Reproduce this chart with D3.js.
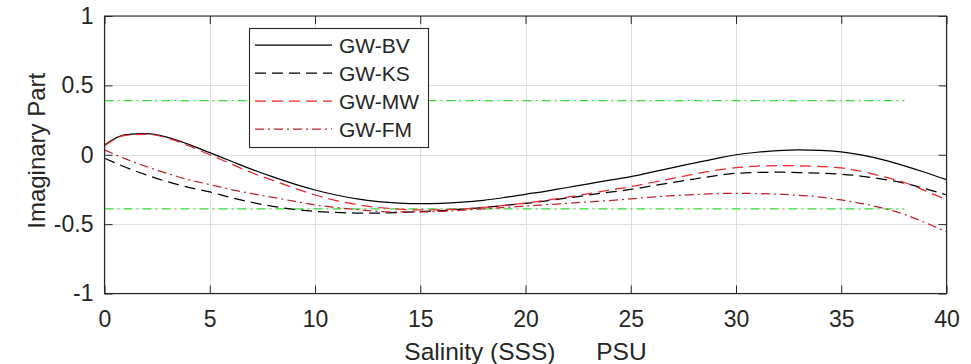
<!DOCTYPE html>
<html>
<head>
<meta charset="utf-8">
<script src="https://cdn.jsdelivr.net/npm/d3@7/dist/d3.min.js"></script>
<style>
  html, body { margin: 0; padding: 0; background: #fff; }
  svg { display: block; font-family: "Liberation Sans", Arial, Helvetica, sans-serif; }
</style>
</head>
<body>
<svg id="chart" width="971" height="364"></svg>
<script>
// Salinity samples (PSU)
const salinity = d3.range(0, 41);

// Imaginary part of the permittivity for each model
const gwBV = [0.07, 0.145, 0.152, 0.125, 0.075, 0.015, -0.045, -0.105, -0.16, -0.21,
  -0.254, -0.29, -0.318, -0.337, -0.348, -0.352, -0.35, -0.342, -0.328, -0.308,
  -0.285, -0.262, -0.236, -0.21, -0.183, -0.158, -0.125, -0.093, -0.06, -0.03,
  0.0, 0.018, 0.03, 0.035, 0.032, 0.02, -0.003, -0.037, -0.08, -0.128, -0.18];
const gwKS = [-0.025, -0.09, -0.146, -0.195, -0.235, -0.268, -0.308, -0.343, -0.372, -0.393,
  -0.408, -0.416, -0.42, -0.42, -0.417, -0.41, -0.402, -0.392, -0.38, -0.365,
  -0.35, -0.332, -0.312, -0.29, -0.27, -0.25, -0.225, -0.2, -0.175, -0.152,
  -0.134, -0.128, -0.126, -0.128, -0.133, -0.14, -0.155, -0.177, -0.205, -0.245, -0.29];
const gwMW = [0.065, 0.14, 0.148, 0.12, 0.065, 0.0, -0.065, -0.13, -0.185, -0.24,
  -0.29, -0.33, -0.36, -0.38, -0.392, -0.398, -0.397, -0.39, -0.38, -0.365,
  -0.348, -0.328, -0.305, -0.28, -0.255, -0.23, -0.2, -0.17, -0.14, -0.113,
  -0.093, -0.082, -0.078, -0.08, -0.085, -0.095, -0.12, -0.158, -0.2, -0.26, -0.325];
const gwFM = [0.035, -0.03, -0.086, -0.135, -0.18, -0.215, -0.25, -0.28, -0.307, -0.335,
  -0.362, -0.38, -0.395, -0.408, -0.412, -0.412, -0.408, -0.4, -0.39, -0.38,
  -0.37, -0.36, -0.35, -0.34, -0.33, -0.318, -0.305, -0.295, -0.287, -0.28,
  -0.278, -0.28, -0.285, -0.292, -0.305, -0.326, -0.352, -0.386, -0.43, -0.49, -0.555];

// Threshold levels (green reference lines) and their salinity span
const thresholds = [0.39, -0.39];
const thresholdSpan = [0, 38];

// Tick labels
const xTicks = [0, 5, 10, 15, 20, 25, 30, 35, 40];
const yTicks = [-1, -0.5, 0, 0.5, 1];
const yTickLabels = ["-1", "-0.5", "0", "0.5", "1"];

const seriesNames = ["GW-BV", "GW-KS", "GW-MW", "GW-FM"];
const seriesValues = [gwBV, gwKS, gwMW, gwFM];
const seriesStyle = [
  { color: "#000000", dash: null },
  { color: "#000000", dash: "11,6" },
  { color: "#e8262b", dash: "11,6" },
  { color: "#c0222c", dash: "9,4,2,4" }
];

const svg = d3.select("#chart");
const plotL = 104.5, plotR = 946.5, plotT = 16, plotB = 293.5;

const x = d3.scaleLinear().domain([0, 40]).range([plotL, plotR]);
const y = d3.scaleLinear().domain([-1, 1]).range([plotB, plotT]);

// grid
const grid = svg.append("g").attr("stroke", "#dedede").attr("stroke-width", 1);
grid.selectAll("line.gx").data(xTicks).join("line").attr("class", "gx")
  .attr("x1", d => Math.round(x(d)) + 0.5).attr("x2", d => Math.round(x(d)) + 0.5)
  .attr("y1", plotT).attr("y2", plotB);
grid.selectAll("line.gy").data(yTicks).join("line").attr("class", "gy")
  .attr("y1", d => Math.round(y(d)) + 0.5).attr("y2", d => Math.round(y(d)) + 0.5)
  .attr("x1", plotL).attr("x2", plotR);

// axes with inward ticks on all four sides
const tickLen = 8;
const axisColor = "#262626";
const fontTick = 23;

const bottomAxis = svg.append("g").attr("transform", `translate(0,${plotB})`)
  .call(d3.axisBottom(x).tickValues(xTicks).tickSizeInner(-tickLen).tickSizeOuter(0).tickPadding(17));
const topAxis = svg.append("g").attr("transform", `translate(0,${plotT})`)
  .call(d3.axisTop(x).tickValues(xTicks).tickSizeInner(-tickLen).tickSizeOuter(0).tickFormat(""));
const leftAxis = svg.append("g").attr("transform", `translate(${plotL},0)`)
  .call(d3.axisLeft(y).tickValues(yTicks).tickSizeInner(-tickLen).tickSizeOuter(0).tickPadding(11)
    .tickFormat((d, i) => yTickLabels[i]));
const rightAxis = svg.append("g").attr("transform", `translate(${plotR},0)`)
  .call(d3.axisRight(y).tickValues(yTicks).tickSizeInner(-tickLen).tickSizeOuter(0).tickFormat(""));

[bottomAxis, topAxis, leftAxis, rightAxis].forEach(g => {
  g.select(".domain").remove();
  g.selectAll(".tick line").attr("stroke", axisColor);
  g.selectAll(".tick text").attr("fill", axisColor)
    .attr("font-size", fontTick)
    .attr("font-family", "'Liberation Sans', Arial, sans-serif");
});

// threshold lines
svg.append("g").selectAll("line").data(thresholds).join("line")
  .attr("x1", x(thresholdSpan[0])).attr("x2", x(thresholdSpan[1]))
  .attr("y1", d => y(d)).attr("y2", d => y(d))
  .attr("stroke", "#3ad83a").attr("stroke-width", 1.2)
  .attr("stroke-dasharray", "9,4,2,4");

// curves
const line = d3.line().x((d, i) => x(salinity[i])).y(d => y(d)).curve(d3.curveMonotoneX);
svg.append("g").selectAll("path").data(seriesValues).join("path")
  .attr("d", d => line(d))
  .attr("fill", "none")
  .attr("stroke", (d, i) => seriesStyle[i].color)
  .attr("stroke-width", 1.25)
  .attr("stroke-dasharray", (d, i) => seriesStyle[i].dash);

// frame
svg.append("rect")
  .attr("x", plotL).attr("y", plotT)
  .attr("width", plotR - plotL).attr("height", plotB - plotT)
  .attr("fill", "none").attr("stroke", axisColor).attr("stroke-width", 1.1);

// axis labels
svg.append("text")
  .attr("x", (plotL + plotR) / 2).attr("y", 360)
  .attr("text-anchor", "middle").attr("font-size", 24.5).attr("fill", axisColor)
  .style("white-space", "pre")
  .text("Salinity (SSS)      PSU");
svg.append("text")
  .attr("transform", `translate(45,${(plotT + plotB) / 2 - 4}) rotate(-90)`)
  .attr("text-anchor", "middle").attr("font-size", 24).attr("fill", axisColor)
  .text("Imaginary Part");

// legend
const legend = svg.append("g");
const lgX = 249.5, lgY = 28.5, lgW = 179, lgH = 119;
legend.append("rect").attr("x", lgX).attr("y", lgY).attr("width", lgW).attr("height", lgH)
  .attr("fill", "#fff").attr("stroke", axisColor).attr("stroke-width", 1.1);
const rowY = [45, 73, 101, 129];
const rows = legend.selectAll("g.row").data(seriesNames).join("g").attr("class", "row")
  .attr("transform", (d, i) => `translate(0,${rowY[i]})`);
rows.append("line").attr("x1", 255).attr("x2", 332).attr("y1", 0).attr("y2", 0)
  .attr("stroke", (d, i) => seriesStyle[i].color)
  .attr("stroke-width", 1.25)
  .attr("stroke-dasharray", (d, i) => seriesStyle[i].dash);
rows.append("text").attr("x", 339).attr("y", 0).attr("dy", "0.36em")
  .attr("font-size", 21).attr("fill", axisColor).text(d => d);
</script>
</body>
</html>
